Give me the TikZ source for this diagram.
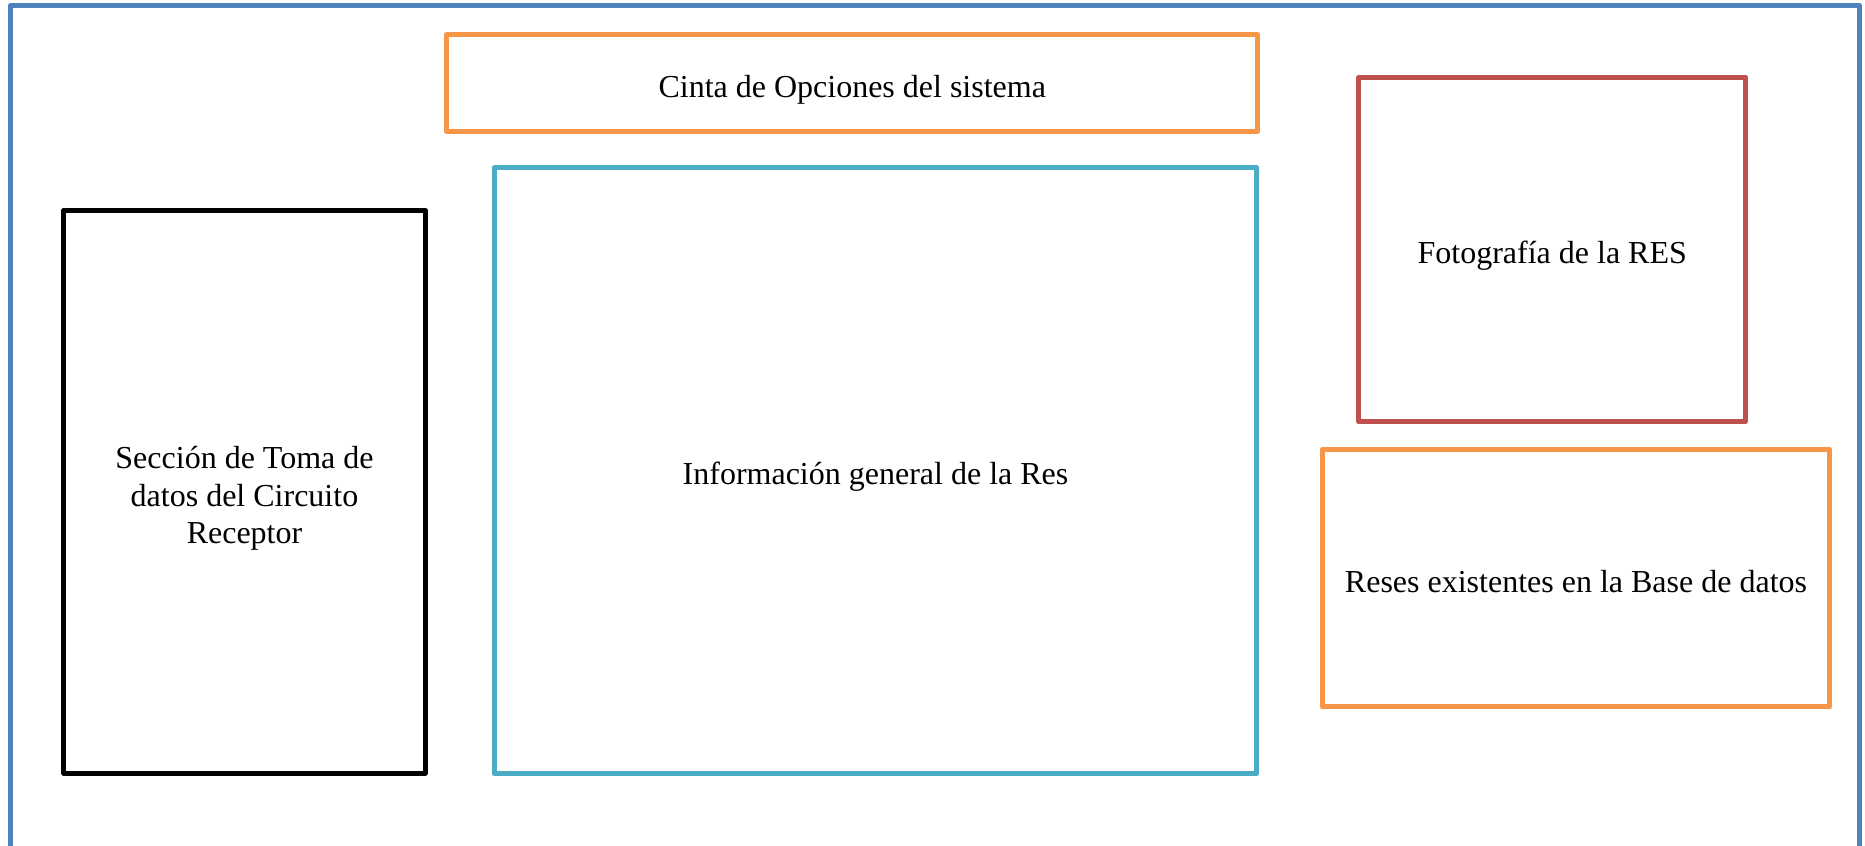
\documentclass[tikz,border=0pt]{standalone}
\usepackage{fontspec}
\setmainfont{Liberation Serif}
\definecolor{marcoazul}{HTML}{4F81BD}
\definecolor{naranja}{HTML}{F79646}
\definecolor{turquesa}{HTML}{4BACC6}
\definecolor{rojizo}{HTML}{C0504D}

\begin{document}
\begin{tikzpicture}[x=0.01cm, y=-0.01cm, line width=1.42pt, line join=round,
    font=\fontsize{9.1pt}{10.7pt}\selectfont,
    box/.style={draw, fill=white, align=center, inner sep=2pt, text height=9pt, text depth=1pt}]
  % ================================================================ window frame
  \clip (0,0) rectangle (1865,846);
  \draw[marcoazul, line width=1.35pt] (10.5,5.5) rectangle (1859.5,900);
  % ================================================================ top ribbon
  \node[box, draw=naranja, minimum width=8.105cm, minimum height=0.97cm] (cinta) at (852.25,83) {Cinta de Opciones del sistema};
  % ================================================================ left column
  \node[box, draw=black, minimum width=3.61cm, minimum height=5.625cm, text height=30.7pt] (toma) at (244.5,491.75)
     {Sección de Toma de\\ datos del Circuito\\ Receptor};
  % ================================================================ centre
  \node[box, draw=turquesa, minimum width=7.62cm, minimum height=6.055cm] (info) at (875.5,470.75) {Información general de la Res};
  % ================================================================ right column
  \node[box, draw=rojizo, minimum width=3.865cm, minimum height=3.44cm] (foto) at (1552.25,249.5) {Fotografía de la RES};
  \node[box, draw=naranja, minimum width=5.07cm, minimum height=2.57cm] (reses) at (1576,578) {Reses existentes en la Base de datos};
\end{tikzpicture}
\end{document}
